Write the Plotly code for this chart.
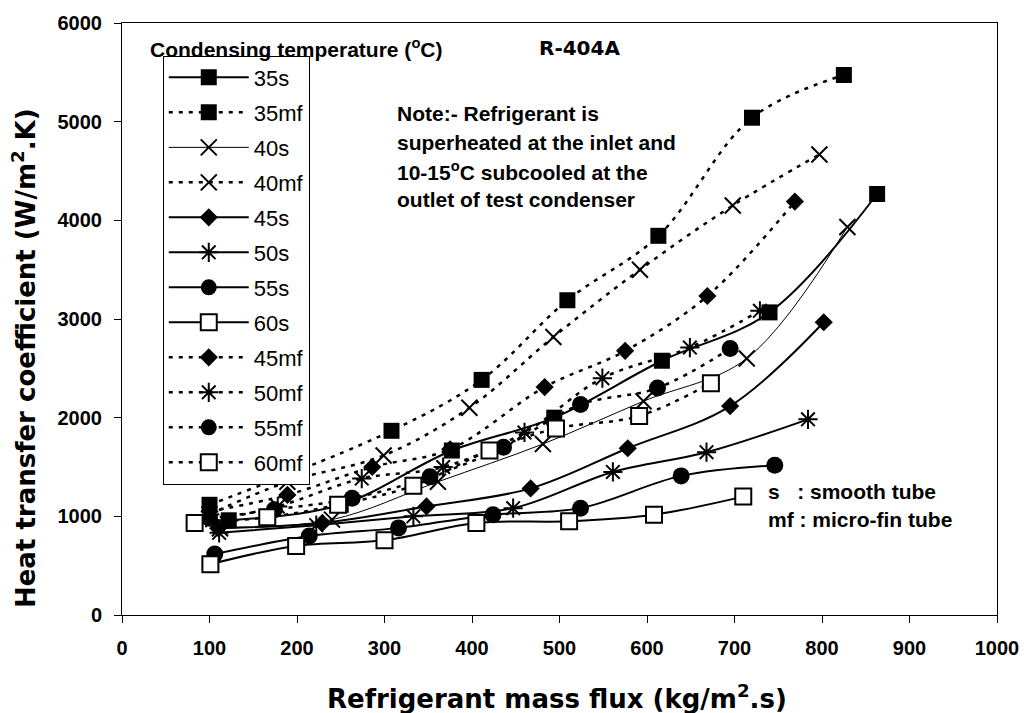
import plotly.graph_objects as go

# ---- data ----
x_35s = [122, 250, 377, 494, 617, 740, 863]
y_35s = [960, 1117, 1667, 2000, 2577, 3067, 4267]
x_35mf = [100, 308, 411, 509, 613, 720, 825]
y_35mf = [1117, 1867, 2383, 3190, 3843, 5040, 5473]
x_40s = [112, 240, 361, 481, 596, 714, 829]
y_40s = [880, 967, 1350, 1733, 2167, 2600, 3933]
x_40mf = [100, 189, 299, 397, 493, 592, 698, 797]
y_40mf = [1020, 1350, 1617, 2100, 2817, 3500, 4150, 4667]
x_45s = [110, 229, 348, 467, 578, 695, 802]
y_45s = [880, 933, 1100, 1283, 1690, 2117, 2967]
x_50s = [111, 222, 333, 447, 561, 668, 784]
y_50s = [833, 910, 1000, 1083, 1450, 1650, 1983]
x_55s = [106, 214, 316, 424, 524, 639, 746]
y_55s = [617, 800, 883, 1017, 1083, 1410, 1517]
x_60s = [101, 199, 300, 405, 511, 608, 710]
y_60s = [515, 700, 757, 933, 950, 1017, 1200]
x_45mf = [100, 189, 286, 375, 483, 575, 669, 769]
y_45mf = [1050, 1217, 1500, 1680, 2310, 2677, 3233, 4190]
x_50mf = [103, 178, 274, 367, 460, 549, 649, 729]
y_50mf = [960, 1100, 1383, 1500, 1850, 2400, 2710, 3083]
x_55mf = [100, 174, 263, 352, 436, 524, 612, 695]
y_55mf = [980, 1067, 1183, 1400, 1700, 2133, 2300, 2700]
x_60mf = [83, 166, 247, 333, 420, 496, 591, 673]
y_60mf = [933, 990, 1117, 1310, 1667, 1890, 2017, 2350]

x_ticks = [0, 100, 200, 300, 400, 500, 600, 700, 800, 900, 1000]
y_ticks = [0, 1000, 2000, 3000, 4000, 5000, 6000]

note_lines = ["Note:- Refrigerant is",
              "superheated at the inlet and",
              "10-15<sup>o</sup>C subcooled at the",
              "outlet of test condenser"]
tube_lines = ["s&nbsp;&nbsp;&nbsp;: smooth tube", "mf : micro-fin tube"]

DASH = "4px,6px"
series = [
    ("35s", x_35s, y_35s, "solid", 2, dict(symbol="square", size=16, color="black")),
    ("35mf", x_35mf, y_35mf, DASH, 2.5, dict(symbol="square", size=16, color="black")),
    ("40s", x_40s, y_40s, "solid", 1, dict(symbol="x-thin-open", size=16, color="black", line=dict(width=2, color="black"))),
    ("40mf", x_40mf, y_40mf, DASH, 2.5, dict(symbol="x-thin-open", size=16, color="black", line=dict(width=2, color="black"))),
    ("45s", x_45s, y_45s, "solid", 2, dict(symbol="diamond", size=14, color="black")),
    ("50s", x_50s, y_50s, "solid", 2, dict(symbol="asterisk-open", size=16, color="black", line=dict(width=2, color="black"))),
    ("55s", x_55s, y_55s, "solid", 2, dict(symbol="circle", size=17, color="black")),
    ("60s", x_60s, y_60s, "solid", 2, dict(symbol="square", size=16, color="white", line=dict(width=2, color="black"))),
    ("45mf", x_45mf, y_45mf, DASH, 2.5, dict(symbol="diamond", size=14, color="black")),
    ("50mf", x_50mf, y_50mf, DASH, 2.5, dict(symbol="asterisk-open", size=16, color="black", line=dict(width=2, color="black"))),
    ("55mf", x_55mf, y_55mf, DASH, 2.5, dict(symbol="circle", size=17, color="black")),
    ("60mf", x_60mf, y_60mf, DASH, 2.5, dict(symbol="square", size=16, color="white", line=dict(width=2, color="black"))),
]

fig = go.Figure()
for name, xs, ys, dash, w, mk in series:
    fig.add_trace(go.Scatter(
        x=xs, y=ys, name=name, mode="lines+markers", legendgroup=name,
        line=dict(color="black", width=w, dash=dash, shape="spline", smoothing=1.0),
        marker=mk,
    ))

W, H = 1031, 713
L, R, T, B = 122, 29, 15, 98
pw, ph = W - L - R, H - T - B

def px(xp):
    return (xp - L) / pw

def py(yp):
    return (H - B - yp) / ph

tick_font = dict(family="Liberation Sans", size=20, color="black", weight="bold")
fig.update_layout(
    width=W, height=H, margin=dict(l=L, r=R, t=T, b=B),
    paper_bgcolor="white", plot_bgcolor="white",
    showlegend=True,
    legend=dict(x=px(163), y=py(48), xanchor="left", yanchor="top",
                bordercolor="black", borderwidth=1, bgcolor="white",
                font=dict(family="Liberation Sans", size=22, color="black"),
                tracegroupgap=3.4, itemwidth=80, traceorder="grouped"),
    xaxis=dict(range=[0, 1000], tickvals=x_ticks, ticks="outside", ticklen=7,
               tickcolor="black", showline=True, linecolor="black", linewidth=1,
               mirror=True, showgrid=False, zeroline=False, tickfont=tick_font,
               ticklabelstandoff=8),
    yaxis=dict(range=[0, 6000], tickvals=y_ticks, ticks="outside", ticklen=7,
               tickcolor="black", showline=True, linecolor="black", linewidth=1,
               mirror=True, showgrid=False, zeroline=False, tickfont=tick_font,
               ticklabelstandoff=8),
)

ann_bold = dict(family="Liberation Sans", size=21, color="black", weight="bold")
title_font = dict(family="DejaVu Sans", size=26, color="black", weight="bold")

anns = []
anns.append(dict(text="Refrigerant mass flux (kg/m<sup>2</sup>.s)", x=px(559), y=py(698),
                 xanchor="center", yanchor="middle", font=title_font))
anns.append(dict(text="Heat transfer coefficient (W/m<sup>2</sup>.K)", x=px(24), y=py(355),
                 xanchor="center", yanchor="middle", textangle=-90, font=title_font))
anns.append(dict(text="Condensing temperature (<sup>o</sup>C)", x=px(148), y=py(40),
                 xanchor="left", yanchor="middle", font=ann_bold))
anns.append(dict(text="R-404A", x=px(582), y=py(40), xanchor="center", yanchor="middle",
                 font=dict(family="DejaVu Sans", size=20, color="black", weight="bold")))
for i, t in enumerate(note_lines):
    anns.append(dict(text=t, x=px(397), y=py(107 + 29 * i), xanchor="left",
                     yanchor="middle", font=ann_bold))
for i, t in enumerate(tube_lines):
    anns.append(dict(text=t, x=px(770), y=py(490 + 28 * i), xanchor="left",
                     yanchor="middle", font=ann_bold))
for a in anns:
    a.update(xref="paper", yref="paper", showarrow=False)
fig.update_layout(annotations=anns)

fig.write_html("out.html")
